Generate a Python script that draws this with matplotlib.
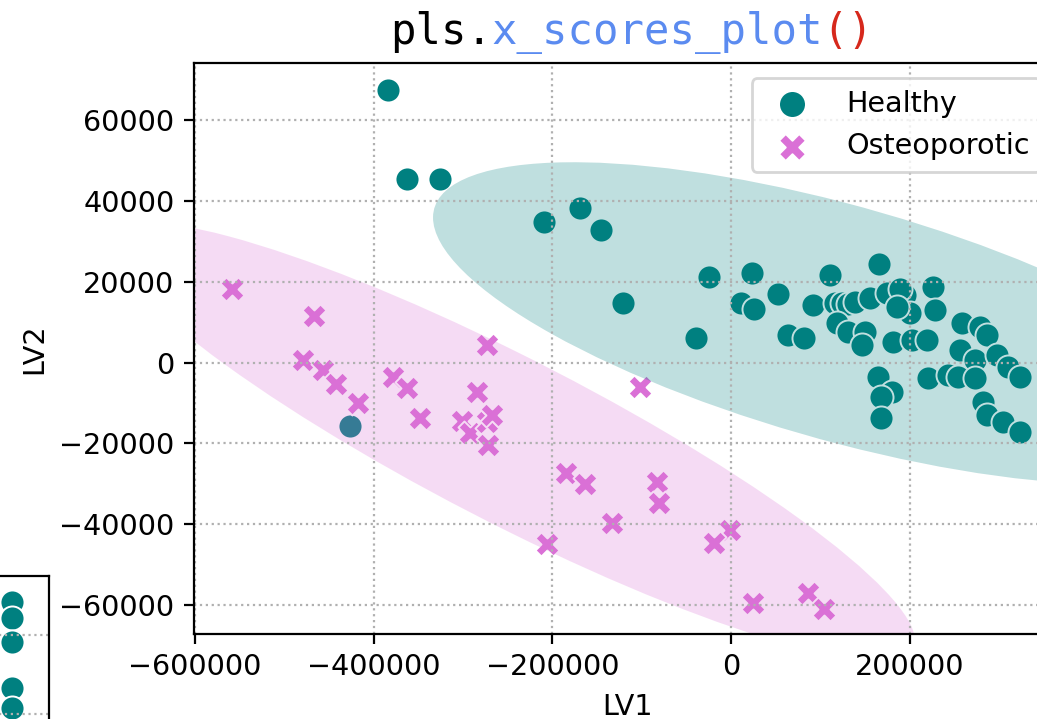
import matplotlib.pyplot as plt
from matplotlib.patches import Ellipse
from matplotlib.transforms import offset_copy

DPI = 200
plt.rcParams["font.size"] = 10.3

# PLS scores
healthy_lv1 = [-384000, -363100, -325800, -209800, -168800, -145300, -121400, -39400,
               -25200, 23300, 11000, 25500, 52400, 63900, 81500, 110500, 91900,
               116100, 123600, 131000, 138500, 155300, 174000, 165400, 118000,
               131000, 149700, 146000, 181400, 164600, 179600, 167100, 167600,
               194500, 188900, 226100, 200100, 228000, 185200, 202000, 218700,
               257900, 278400, 285900, 256000, 272800, 297100, 310000, 323100,
               220500, 242900, 254100, 272800, 282100, 285900, 304500, 323100,
               -426500]
healthy_lv2 = [67420, 45400, 45400, 34830, 38150, 32780, 14650, 5990,
               21080, 22070, 14790, 13240, 16950, 6800, 5990, 21650, 14230,
               14650, 14650, 14470, 15040, 15880, 17120, 24370, 9700,
               7620, 7470, 4330, 5150, -3510, -7220, -8460, -13800,
               16700, 18110, 18750, 12170, 12990, 13800, 5570, 5570,
               9700, 8860, 6800, 3090, 620, 1860, -1040, -3510,
               -3910, -3090, -3510, -3910, -9700, -12990, -14650, -17120,
               -15640]

osteo_lv1 = [-558200, -466500, -478800, -456400, -442500, -417200, -378100,
             -363100, -348200, -272900, -284800, -301500, -292300, -273600,
             -268000, -271800, -101700, -184500, -163200, -83000, -81100,
             -133400, -206100, -1000, -18900, 24100, 85900, 104200]
osteo_lv2 = [18110, 11500, 620, -1860, -5320, -10090, -3510,
             -6380, -13800, 4330, -7420, -14420, -17320, -14650,
             -12990, -20410, -5990, -27260, -30060, -29490, -34830,
             -39630, -44980, -41440, -44580, -59430, -57100, -61060]

# confidence ellipses: centre, full width, full height, angle (data units)
healthy_centre = (123400, 9700)
healthy_size = (915600, 60020)
healthy_angle = -3.29
osteo_centre = (-245300, -19540)
osteo_size = (907000, 45250)
osteo_angle = -6.24

# leftover piece of a neighbouring plot in the bottom-left corner
remnant_x = [62.7, 62.7, 62.7, 62.7, 62.7]
remnant_y = [25.7, 42.3, 65.7, 112.3, 132.3]
remnant_grid = [59, 138]

title_parts = [("pls.", "black"), ("x_scores_plot", "#5b8bf0"), ("()", "#d6281c")]
TITLE_SIZE = 15.2

fig = plt.figure(figsize=(1037 / DPI, 719 / DPI), dpi=DPI)
ax = fig.add_axes([0.18708, 0.11822, 0.83510, 0.79416])

ax.scatter(healthy_lv1, healthy_lv2, s=75, c="teal", marker="o",
           edgecolors="white", linewidths=0.7, label="Healthy")
ax.scatter(osteo_lv1, osteo_lv2, s=75, c="orchid", marker="X",
           edgecolors="white", linewidths=0.7, label="Osteoporotic")

ax.add_patch(Ellipse(healthy_centre, *healthy_size, angle=healthy_angle,
                     facecolor="teal", edgecolor="none", alpha=0.25))
ax.add_patch(Ellipse(osteo_centre, *osteo_size, angle=osteo_angle,
                     facecolor="orchid", edgecolor="none", alpha=0.25))

ax.set_xlim(-601100, 367900)
ax.set_ylim(-67170, 74100)
ax.set_xticks([-600000, -400000, -200000, 0, 200000])
ax.set_yticks([-60000, -40000, -20000, 0, 20000, 40000, 60000])
ax.grid(True, linestyle=":", color="#b0b0b0")
ax.set_xlabel("LV1")
ax.set_ylabel("LV2")
ax.legend(loc="upper left", bbox_to_anchor=(0.644, 0.973), borderaxespad=0,
          markerscale=1.12, handletextpad=0.9)

# title in three colours; monospace, so each part starts n character cells in
pitch = 0.602 * TITLE_SIZE
n = 0
for txt, col in title_parts:
    tr = offset_copy(ax.transAxes, fig=fig, x=n * pitch, y=0, units="points")
    ax.text(0.2263, 1.0335, txt, transform=tr, family="DejaVu Sans Mono",
            fontsize=TITLE_SIZE, color=col, ha="left", va="baseline")
    n += len(txt)

# bottom-left remnant
ax2 = fig.add_axes([-51 / 1037, -57 / 719, 100 / 1037, 200 / 719])
ax2.scatter(remnant_x, remnant_y, s=75, c="teal", edgecolors="white", linewidths=0.7)
ax2.set_xlim(0, 100)
ax2.set_ylim(200, 0)
ax2.set_xticks([])
ax2.set_yticks(remnant_grid)
ax2.tick_params(left=False, labelleft=False)
ax2.grid(True, axis="y", linestyle=":", color="#b0b0b0")

fig.savefig("out.png", dpi=DPI)
